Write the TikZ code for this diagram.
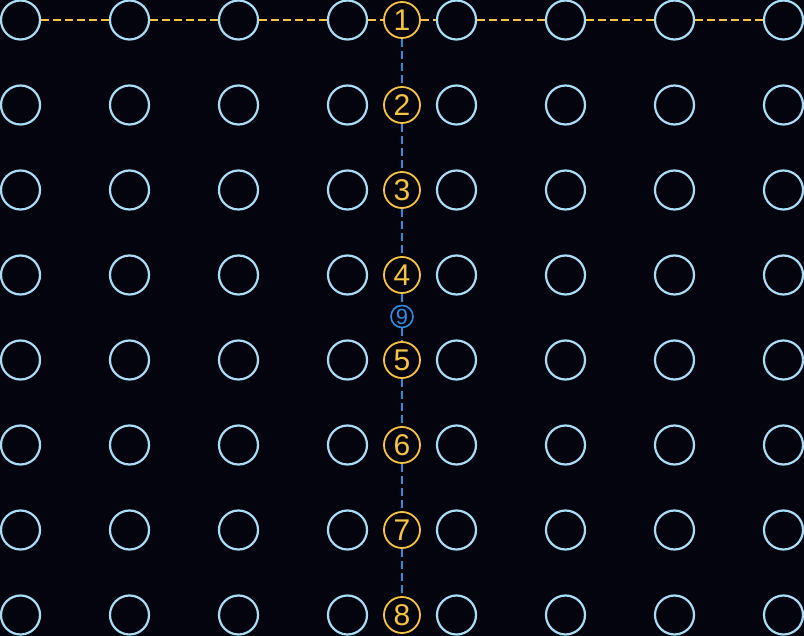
\documentclass[tikz,border=0pt]{standalone}
\usepackage{fontspec}
\setmainfont{Liberation Sans}
\usetikzlibrary{arrows.meta}
\definecolor{bgnavy}{HTML}{04040F}
\definecolor{ringblue}{HTML}{A9DDF5}
\definecolor{numyellow}{HTML}{F6C344}
\definecolor{numblue}{HTML}{2E8BDD}
\tikzset{
  every picture/.style={line join=round, >=Stealth},
  ring/.style={circle, draw=ringblue, fill=bgnavy, line width=1.1pt, minimum size=19.5pt, inner sep=0pt},
  numring/.style={circle, draw=numyellow, fill=bgnavy, text=numyellow, line width=0.9pt, minimum size=18pt, inner sep=0pt, font=\fontsize{15}{15}\selectfont},
  smallring/.style={circle, draw=numblue, fill=bgnavy, text=numblue, line width=0.8pt, minimum size=11pt, inner sep=0pt, font=\fontsize{11}{11}\selectfont},
  yline/.style={draw=numyellow, line width=1.2pt, dash pattern=on 4pt off 2pt},
  bline/.style={draw=numblue, line width=1.2pt, dash pattern=on 4pt off 2pt},
}

\begin{document}
\begin{tikzpicture}[x=0.5pt,y=-0.5pt]
\fill[bgnavy](0,0)rectangle(804,636);
\useasboundingbox(0,0)rectangle(804,636);
% grid of rings
\foreach \i in {0,...,7}
  \foreach \j in {0,...,7}
    \node[ring](p-\i-\j)at(20.5+109*\i,20+85*\j){};
% numbered rings
\foreach \k in {1,...,8}
  \node[numring](n\k)at(402,20+85*\k-85){\k};
\node[smallring](n9)at(402,316.5){9};
% top row
\foreach \a/\b in {p-0-0/p-1-0,p-1-0/p-2-0,p-2-0/p-3-0,p-3-0/n1,n1/p-4-0,p-4-0/p-5-0,p-5-0/p-6-0,p-6-0/p-7-0}
  \draw[yline](\a)--(\b);
% middle column
\foreach \a/\b in {n1/n2,n2/n3,n3/n4,n4/n9,n9/n5,n5/n6,n6/n7,n7/n8}
  \draw[bline](\a)--(\b);
\end{tikzpicture}
\end{document}
